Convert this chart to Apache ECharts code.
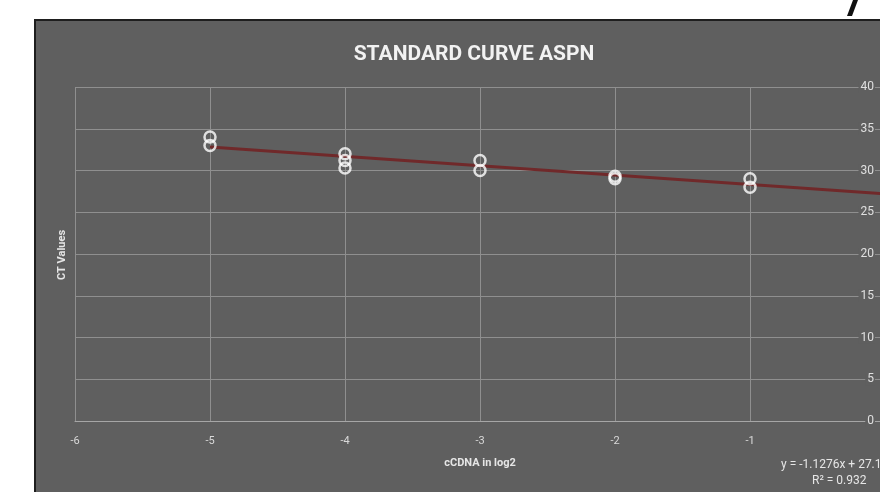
<!DOCTYPE html>
<html>
<head>
<meta charset="utf-8">
<script src="https://cdn.jsdelivr.net/npm/echarts@6/dist/echarts.min.js"></script>
<style>
  html, body { margin: 0; padding: 0; background: #ffffff; overflow: hidden; }
  #frame { position: absolute; left: 34px; top: 19px; width: 900px; height: 500px;
           background: #5f5f5f; border-left: 2px solid #1e1e1e; border-top: 2px solid #1e1e1e; }
  #chart { position: absolute; left: 0; top: 0; width: 880px; height: 492px; }
</style>
</head>
<body>
<div id="frame"></div>
<div id="chart"></div>
<script>
  // cDNA dilution (log2) vs CT values, duplicate / triplicate wells
  var xValues = [-5, -5, -4, -4, -4, -3, -3, -2, -2, -1, -1]
  var ctValues = [34, 33, 32, 31.2, 30.3, 31.2, 30, 29.3, 29, 29, 28]
  // linear trendline ends
  var trendX = [-5, 0]
  var trendY = [32.8, 27.2]
  var yTicks = [0, 5, 10, 15, 20, 25, 30, 35, 40]

  var points = xValues.map(function (x, i) { return [x, ctValues[i]] })
  var trend = trendX.map(function (x, i) { return [x, trendY[i]] })

  var chart = echarts.init(document.getElementById('chart'), null, { renderer: 'canvas' })

  chart.setOption({
    backgroundColor: 'transparent',
    animation: false,
    title: {
      text: 'STANDARD CURVE ASPN',
      left: 469,
      textAlign: 'center',
      top: 39,
      textStyle: {
        color: '#f2f2f2',
        fontFamily: 'Roboto',
        fontWeight: 'bold',
        fontSize: 21
      }
    },
    grid: {
      left: 75,
      right: -5,
      top: 87,
      bottom: 71,
      outerBoundsMode: 'none',
      containLabel: false
    },
    xAxis: {
      type: 'value',
      min: -6,
      max: 0,
      interval: 1,
      name: 'cCDNA in log2',
      nameLocation: 'middle',
      nameGap: 37,
      nameTextStyle: {
        color: '#e6e6e6',
        fontFamily: 'Roboto',
        fontWeight: 'bold',
        fontSize: 11
      },
      axisLine: { show: true, lineStyle: { color: '#a6a6a6', width: 1 } },
      axisTick: { show: false },
      axisLabel: {
        color: '#d9d9d9',
        fontFamily: 'Roboto',
        fontSize: 11,
        margin: 15,
        formatter: function (v) { return v === 0 ? '' : v }
      },
      splitLine: { show: true, lineStyle: { color: '#8f8f8f', width: 1 } }
    },
    yAxis: {
      type: 'value',
      position: 'right',
      min: 0,
      max: 40,
      interval: 5,
      axisLine: { show: false },
      axisTick: { show: false },
      axisLabel: {
        inside: true,
        margin: 10,
        color: '#e0e0e0',
        fontFamily: 'Roboto',
        fontSize: 12,
        backgroundColor: '#5f5f5f',
        padding: [0, 1, 0, 2],
        formatter: function (v) { return yTicks.indexOf(v) > -1 ? String(v) : '' }
      },
      splitLine: { show: true, lineStyle: { color: '#8f8f8f', width: 1 } }
    },
    graphic: [
      {
        type: 'text',
        x: 62,
        y: 255,
        rotation: Math.PI / 2,
        style: {
          text: 'CT Values',
          fill: '#e6e6e6',
          font: 'bold 11px Roboto',
          align: 'center',
          verticalAlign: 'middle'
        }
      },
      {
        type: 'text',
        x: 781,
        y: 459,
        style: {
          text: 'y = -1.1276x + 27.15',
          fill: '#e6e6e6',
          font: '12px Roboto'
        }
      },
      {
        type: 'text',
        x: 812,
        y: 475,
        style: {
          text: 'R² = 0.932',
          fill: '#e6e6e6',
          font: '12px Roboto'
        }
      },
      {
        type: 'polygon',
        shape: { points: [[847, 16], [852, 16], [858, 0], [853, 0]] },
        style: { fill: '#111111' }
      }
    ],
    series: [
      {
        name: 'Trendline',
        type: 'line',
        data: trend,
        symbol: 'none',
        z: 2,
        lineStyle: { color: '#70292a', width: 3 }
      },
      {
        name: 'CT',
        type: 'scatter',
        data: points,
        symbol: 'circle',
        symbolSize: 11,
        z: 3,
        itemStyle: {
          color: 'rgba(0,0,0,0)',
          borderColor: '#ffffff',
          borderWidth: 2.5
        }
      }
    ]
  })
</script>
</body>
</html>
